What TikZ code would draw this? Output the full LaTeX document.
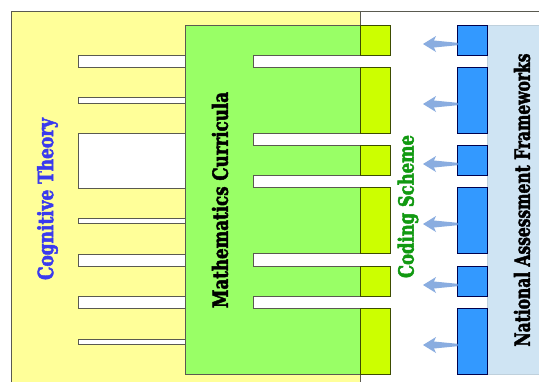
\documentclass[tikz,border=0pt]{standalone}
\usepackage{fontspec}
\setmainfont{DejaVu Serif Condensed}
\usepackage{graphicx}
\definecolor{yel}{HTML}{FFFF99}
\definecolor{grn}{HTML}{99FF66}
\definecolor{lim}{HTML}{CCFF00}
\definecolor{blu}{HTML}{3399FF}
\definecolor{lblu}{HTML}{CFE4F3}
\definecolor{arr}{HTML}{8AADE0}
\definecolor{edge}{HTML}{5A5A50}
\definecolor{txtblue}{HTML}{3A3AEE}
\definecolor{txtgreen}{HTML}{119911}
\newcommand{\heavytext}[1]{\special{pdf:literal direct 2 Tr 0.5 w}#1\special{pdf:literal direct 0 Tr}}
\tikzset{
  box/.style={draw=edge, line width=0.8pt, inner sep=0pt, outer sep=0pt},
  slot/.style={fill=white, draw=edge, line width=0.8pt},
  limebox/.style={box, fill=lim, draw=black!70!lim, minimum width=30pt},
  bluebox/.style={box, fill=blu, draw=blue!30!black, minimum width=30pt},
  label/.style={rotate=90, inner sep=0pt, font=\bfseries\fontsize{21}{25}\selectfont},
  arrowshape/.style={fill=arr}
}
\begin{document}
\begin{tikzpicture}[x=1pt,y=-1pt]
\useasboundingbox (0,0) rectangle (539,381);
\clip (0,0) rectangle (539,381);
% outer frame and yellow region
\draw[edge, line width=0.8pt, fill=white] (11,11) rectangle (560,400);
\node[box, fill=yel, minimum width=349pt, minimum height=389pt, anchor=north west] (cog) at (11,11) {};
% left slots
\foreach \a/\b in {55/67,97/103,133/188,218/223,254/266,296/308,339/344}
  \draw[slot] (78,\a) rectangle (185,\b);
% green curricula
\node[box, fill=grn, minimum width=175pt, minimum height=349pt, anchor=north west] (math) at (185,25) {};
% right slots
\foreach \a/\b in {55/67,133/145,175/187,253/266,296/308}{
  \fill[white] (253,\a) rectangle (361,\b);
  \draw[edge, line width=0.8pt] (361,\a) -- (253,\a) -- (253,\b) -- (361,\b);
}
% lime blocks
\foreach \i/\c/\h in {1/40/30,2/100/66,3/160/30,4/220/66,5/281/30,6/341/66}{
  \node[limebox, minimum height=\h pt] (l\i) at (375,\c) {};
}
% light blue panel
\node[box, fill=lblu, draw=lblu!80!gray, minimum width=70pt, minimum height=349pt, anchor=north west] (nat) at (487,25) {};
% blue blocks and arrows
\foreach \i/\c/\h in {1/40/30,2/100/66,3/160/30,4/220/66,5/281/30,6/341/66}{
  \node[bluebox, minimum height=\h pt] (b\i) at (472,\c) {};
  \coordinate (t\i) at ([yshift=-4pt]b\i.west);
  \fill[arrowshape] (t\i) ++(0.5,-1.2) -- ++(-23.5,-2.3) -- ++(2,-4.5) -- ++(-13,8) -- ++(13,8) -- ++(-2,-4.5) -- ++(23.5,-2.3) -- cycle;
}
% labels
\node[label, text=txtblue] (ct) at (47.5,199) {\resizebox{162pt}{\height}{\heavytext{Cognitive Theory}}};
\node[label, text=black] (mc) at (220,200) {\resizebox{216pt}{\height}{\heavytext{Mathematics Curricula}}};
\node[label, text=txtgreen] (cs) at (408,206.5) {\resizebox{143pt}{\height}{\heavytext{Coding Scheme}}};
\node[label, text=black] (naf) at (522,200) {\resizebox{293pt}{\height}{\heavytext{National Assessment Frameworks}}};
\end{tikzpicture}
\end{document}
